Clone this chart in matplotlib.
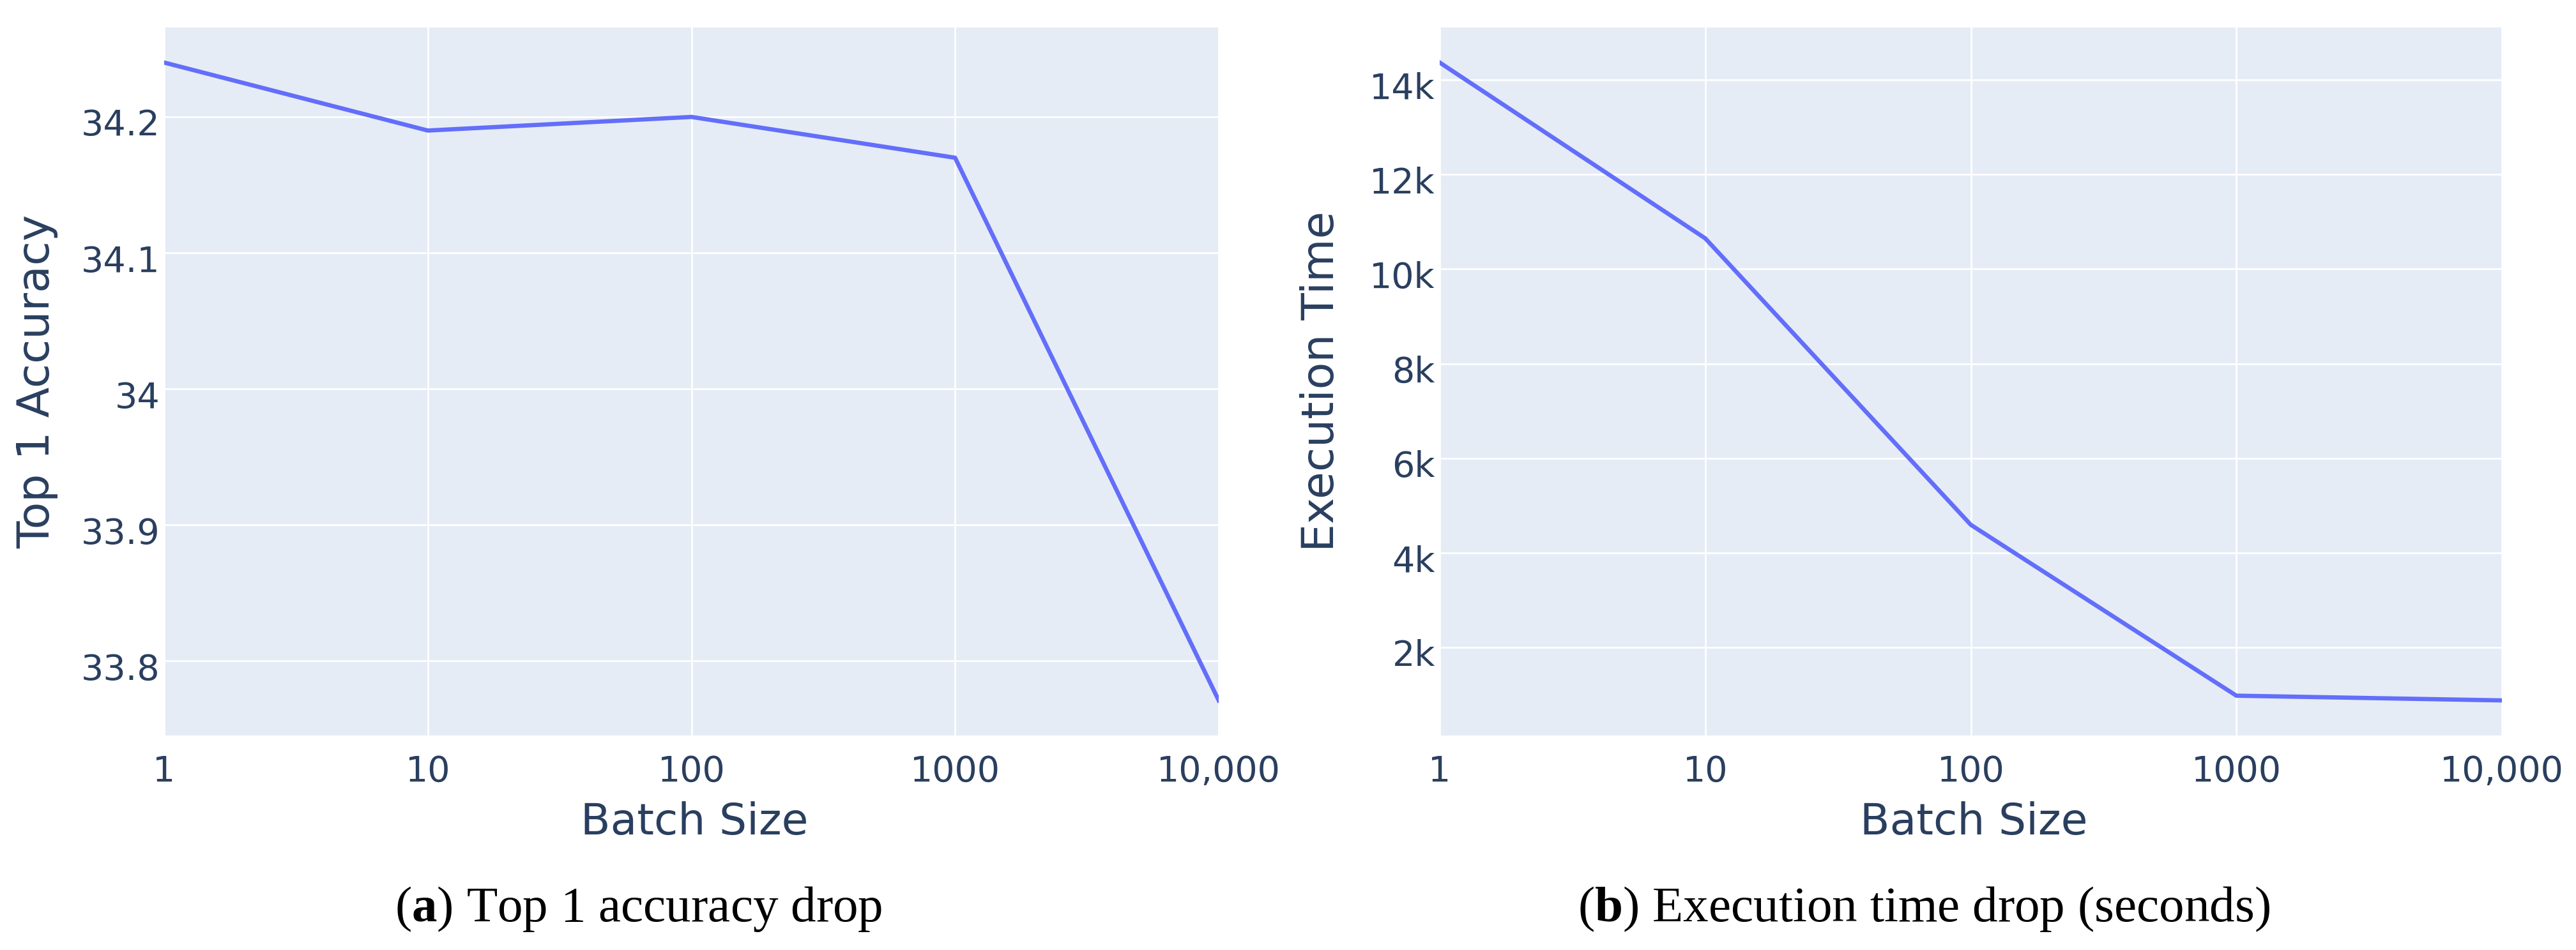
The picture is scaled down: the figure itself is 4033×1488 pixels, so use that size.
import matplotlib
matplotlib.use('Agg')
from matplotlib import pyplot as plt
from matplotlib.ticker import FixedLocator, NullLocator
from matplotlib.transforms import ScaledTranslation

batch_sizes = [1, 10, 100, 1000, 10000]
top1_accuracy = [34.24, 34.19, 34.20, 34.17, 33.771]
exec_time = [14370, 10650, 4590, 975, 875]

x_ticks = [1, 10, 100, 1000, 10000]
x_tick_labels = ['1', '10', '100', '1000', '10,000']
acc_ticks = [33.8, 33.9, 34.0, 34.1, 34.2]
acc_tick_labels = ['33.8', '33.9', '34', '34.1', '34.2']
time_ticks = [2000, 4000, 6000, 8000, 10000, 12000, 14000]
time_tick_labels = ['2k', '4k', '6k', '8k', '10k', '12k', '14k']

LINE = '#636efa'
BG = '#e5ecf6'
TXT = '#2a3f5f'

plt.rcParams['font.family'] = ['DejaVu Sans']
plt.rcParams['mathtext.fontset'] = 'custom'
plt.rcParams['mathtext.rm'] = 'Liberation Serif'
plt.rcParams['mathtext.bf'] = 'Liberation Serif:bold'

W, H = 4033, 1488
fig = plt.figure(figsize=(W / 100, H / 100), dpi=100)


def make_axes(left, right, top, bottom):
    return fig.add_axes([left / W, 1 - bottom / H, (right - left) / W, (bottom - top) / H])


def style(ax, yticks, ylabels, ytitle, ytitle_x):
    ax.set_facecolor(BG)
    for s in ax.spines.values():
        s.set_visible(False)
    ax.set_xscale('log')
    ax.xaxis.set_major_locator(FixedLocator(x_ticks))
    ax.xaxis.set_minor_locator(NullLocator())
    ax.set_xticklabels(x_tick_labels)
    ax.set_yticks(yticks)
    ax.set_yticklabels(ylabels)
    ax.margins(x=0, y=0.055)
    ax.grid(True, color='white', linewidth=1.95)
    ax.set_axisbelow(True)
    ax.tick_params(axis='x', length=0, pad=21.6, labelsize=40, labelcolor=TXT)
    ax.tick_params(axis='y', length=0, pad=5, labelsize=40, labelcolor=TXT)
    # plotly puts y tick labels a touch below the grid line
    shift = ScaledTranslation(0, -6 / 72, fig.dpi_scale_trans)
    for lab in ax.get_yticklabels():
        lab.set_transform(lab.get_transform() + shift)
    ax.set_xlabel('Batch Size', fontsize=49, color=TXT, va='baseline')
    ax.xaxis.set_label_coords(0.503, -0.1398)
    ax.set_ylabel(ytitle, fontsize=50, color=TXT, va='baseline')
    ax.yaxis.set_label_coords(ytitle_x, 0.5)


ax1 = make_axes(257, 1908, 43, 1152)
ax1.plot(batch_sizes, top1_accuracy, color=LINE, linewidth=4.8)
style(ax1, acc_ticks, acc_tick_labels, 'Top 1 Accuracy', -0.109)

ax2 = make_axes(2254, 3917, 43, 1152)
ax2.plot(batch_sizes, exec_time, color=LINE, linewidth=4.8)
style(ax2, time_ticks, time_tick_labels, 'Execution Time', -0.0998)

# subfigure captions
fig.text(1000 / W, 1 - 1443 / H, r'($\mathbf{a}$) Top 1 accuracy drop',
         family='Liberation Serif', fontsize=57, ha='center', va='baseline', color='black')
fig.text(3012 / W, 1 - 1443 / H, r'($\mathbf{b}$) Execution time drop (seconds)',
         family='Liberation Serif', fontsize=57, ha='center', va='baseline', color='black')

fig.savefig('out.png', dpi=100, facecolor='white')
